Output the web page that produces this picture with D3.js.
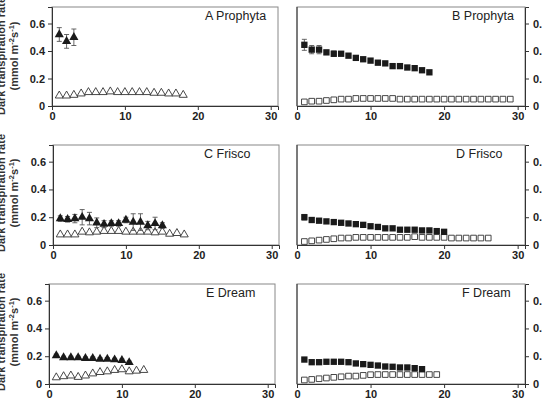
<!DOCTYPE html>
<html>
<head>
  <script src="https://d3js.org/d3.v7.min.js"></script>
  <style>
    body { margin: 0; background: #fff; }
    svg { font-family: "Liberation Sans", Arial, sans-serif; }
    .tick text { font-size: 11px; font-weight: bold; fill: #222; }
    .tick line, .domain { stroke: #333; }
  </style>
</head>
<body>
  <script>
    // day numbers on the x axis
    var days = [1,2,3,4,5,6,7,8,9,10,11,12,13,14,15,16,17,18,19,20,21,22,23,24,25,26,27,28,29];
    var xTicks = [0, 10, 20, 30];
    var yTicks = [0, 0.2, 0.4, 0.6];
    var yTickLabels = ["0", "0.2", "0.4", "0.6"];
    var titles = ["A Prophyta", "B Prophyta", "C Frisco", "D Frisco", "E Dream", "F Dream"];

    // A Prophyta (triangles)
    var aFilled = [0.52, 0.47, 0.50];
    var aFilledErr = [0.05, 0.05, 0.06];
    var aOpen = [0.075, 0.075, 0.08, 0.09, 0.10, 0.10, 0.10, 0.105, 0.10, 0.10, 0.10, 0.10, 0.10, 0.095, 0.095, 0.09, 0.09, 0.08];
    // B Prophyta (squares)
    var bFilled = [0.445, 0.41, 0.41, 0.39, 0.38, 0.38, 0.366, 0.35, 0.34, 0.33, 0.315, 0.31, 0.29, 0.29, 0.28, 0.275, 0.26, 0.245];
    var bFilledErr = [0.04, 0.03, 0.03, 0.015, 0.02, 0, 0, 0, 0, 0, 0, 0, 0, 0, 0, 0, 0, 0];
    var bOpen = [0.03, 0.035, 0.035, 0.04, 0.045, 0.05, 0.05, 0.055, 0.055, 0.055, 0.055, 0.055, 0.055, 0.05, 0.05, 0.05, 0.05, 0.05, 0.05, 0.05, 0.05, 0.05, 0.05, 0.05, 0.05, 0.05, 0.05, 0.05, 0.05];
    // C Frisco (triangles)
    var cFilled = [0.19, 0.185, 0.19, 0.20, 0.19, 0.16, 0.15, 0.155, 0.155, 0.18, 0.165, 0.165, 0.14, 0.155, 0.14];
    var cFilledErr = [0.02, 0.02, 0.03, 0.055, 0.045, 0.035, 0.025, 0.02, 0.02, 0.02, 0.06, 0.06, 0.03, 0.045, 0.02];
    var cOpen = [0.075, 0.075, 0.075, 0.095, 0.09, 0.095, 0.10, 0.10, 0.10, 0.095, 0.095, 0.095, 0.095, 0.09, 0.095, 0.08, 0.085, 0.075];
    // D Frisco (squares)
    var dFilled = [0.20, 0.18, 0.175, 0.17, 0.165, 0.16, 0.155, 0.15, 0.145, 0.135, 0.13, 0.12, 0.12, 0.11, 0.11, 0.11, 0.105, 0.105, 0.10, 0.095];
    var dFilledErr = [0.02, 0, 0, 0, 0, 0, 0, 0, 0, 0, 0, 0, 0, 0, 0, 0, 0, 0, 0, 0];
    var dOpen = [0.025, 0.03, 0.035, 0.04, 0.045, 0.05, 0.05, 0.055, 0.055, 0.055, 0.055, 0.055, 0.055, 0.055, 0.055, 0.06, 0.055, 0.055, 0.055, 0.055, 0.05, 0.05, 0.05, 0.05, 0.05, 0.05];
    // E Dream (triangles)
    var eFilled = [0.205, 0.19, 0.19, 0.19, 0.185, 0.185, 0.18, 0.18, 0.175, 0.17, 0.155];
    var eFilledErr = [0.01, 0.01, 0.01, 0.01, 0.01, 0.01, 0.01, 0.01, 0.01, 0.01, 0.01];
    var eOpen = [0.047, 0.055, 0.06, 0.05, 0.06, 0.075, 0.085, 0.09, 0.10, 0.105, 0.09, 0.095, 0.10];
    // F Dream (squares)
    var fFilled = [0.176, 0.157, 0.157, 0.16, 0.16, 0.16, 0.157, 0.148, 0.143, 0.138, 0.133, 0.126, 0.124, 0.119, 0.119, 0.114, 0.107];
    var fFilledErr = [0.008, 0, 0, 0, 0, 0, 0, 0, 0, 0, 0, 0, 0, 0, 0, 0, 0];
    var fOpen = [0.029, 0.033, 0.038, 0.043, 0.048, 0.052, 0.057, 0.057, 0.062, 0.067, 0.068, 0.068, 0.068, 0.068, 0.068, 0.068, 0.068, 0.068, 0.068];

    var svg = d3.select("body").append("svg").attr("width", 542).attr("height", 406);

    var rowTop = [7, 145, 284], rowBottom = [106, 245, 384], leftX = [52, 53, 49];
    var panels = [
      {filled: aFilled, err: aFilledErr, open: aOpen, shape: d3.symbolTriangle, row: 0, col: 0, tx: 153},
      {filled: bFilled, err: bFilledErr, open: bOpen, shape: d3.symbolSquare, row: 0, col: 1, tx: 155},
      {filled: cFilled, err: cFilledErr, open: cOpen, shape: d3.symbolTriangle, row: 1, col: 0, tx: 151},
      {filled: dFilled, err: dFilledErr, open: dOpen, shape: d3.symbolSquare, row: 1, col: 1, tx: 159},
      {filled: eFilled, err: eFilledErr, open: eOpen, shape: d3.symbolTriangle, row: 2, col: 0, tx: 157},
      {filled: fFilled, err: fFilledErr, open: fOpen, shape: d3.symbolSquare, row: 2, col: 1, tx: 165}
    ];

    panels.forEach(function(p, i) {
      var x0 = p.col == 0 ? leftX[p.row] : 297;
      var w = p.col == 0 ? 226 : 228;
      var top = rowTop[p.row], bottom = rowBottom[p.row];
      var x = d3.scaleLinear().domain([0, 31]).range([x0, x0 + w]);
      var y = d3.scaleLinear().domain([0, 0.72]).range([bottom, top]);
      var g = svg.append("g");

      // frame
      g.append("rect").attr("x", x0).attr("y", top).attr("width", w).attr("height", bottom - top)
        .attr("fill", "none").attr("stroke", "#888");

      g.append("g").attr("transform", "translate(0," + bottom + ")")
        .call(d3.axisBottom(x).tickValues(xTicks).tickSizeOuter(0).tickSize(4).tickPadding(2));

      if (p.col == 0) {
        g.append("g").attr("transform", "translate(" + x0 + ",0)")
          .call(d3.axisLeft(y).tickValues(yTicks).tickFormat(function(d, j) { return yTickLabels[j]; })
            .tickSizeOuter(0).tickSize(4).tickPadding(3));
      } else {
        g.append("g").attr("transform", "translate(" + (x0 + w) + ",0)")
          .call(d3.axisRight(y).tickValues(yTicks).tickFormat(function(d, j) { return yTickLabels[j]; })
            .tickSizeOuter(0).tickSize(4).tickPadding(4));
        g.append("line").attr("x1", x0).attr("x2", x0).attr("y1", top).attr("y2", bottom).attr("stroke", "#333");
      }

      g.append("text").attr("x", x0 + p.tx).attr("y", top + 13)
        .attr("font-size", 12.5).attr("fill", "#222").text(titles[i]);

      var tri = p.shape == d3.symbolTriangle;

      // open series
      g.selectAll(".open").data(p.open).enter().append("path")
        .attr("transform", function(d, j) { return "translate(" + x(days[j]) + "," + y(d) + ")"; })
        .attr("d", d3.symbol().type(p.shape).size(tri ? 28 : 32))
        .attr("fill", "#fff").attr("stroke", "#333").attr("stroke-width", 0.9);

      // error bars for filled series
      p.filled.forEach(function(d, j) {
        var e = p.err[j];
        if (!e) return;
        var cx = x(days[j]);
        g.append("line").attr("x1", cx).attr("x2", cx).attr("y1", y(d - e)).attr("y2", y(d + e))
          .attr("stroke", "#555").attr("stroke-width", 0.9);
        [d - e, d + e].forEach(function(v) {
          g.append("line").attr("x1", cx - 2.5).attr("x2", cx + 2.5).attr("y1", y(v)).attr("y2", y(v))
            .attr("stroke", "#555").attr("stroke-width", 0.9);
        });
      });

      // filled series
      g.selectAll(".filled").data(p.filled).enter().append("path")
        .attr("transform", function(d, j) { return "translate(" + x(days[j]) + "," + y(d) + ")"; })
        .attr("d", d3.symbol().type(p.shape).size(tri ? 36 : 40))
        .attr("fill", "#1a1a1a");
    });

    // y-axis titles, cut by the left edge as in the figure
    [56, 193, 332].forEach(function(cy) {
      var t = svg.append("g").attr("transform", "translate(0," + cy + ") rotate(-90)")
        .attr("font-size", 11).attr("font-weight", "bold").attr("fill", "#333").attr("text-anchor", "middle");
      t.append("text").attr("x", 0).attr("y", 4.5).text("Dark transpiration rate");
      var l2 = t.append("text").attr("x", 0).attr("y", 17.5);
      l2.append("tspan").text("(mmol m");
      l2.append("tspan").attr("dy", -4).attr("font-size", 7.5).text("-2");
      l2.append("tspan").attr("dy", 4).text("s");
      l2.append("tspan").attr("dy", -4).attr("font-size", 7.5).text("-1");
      l2.append("tspan").attr("dy", 4).text(")");
    });
  </script>
</body>
</html>
